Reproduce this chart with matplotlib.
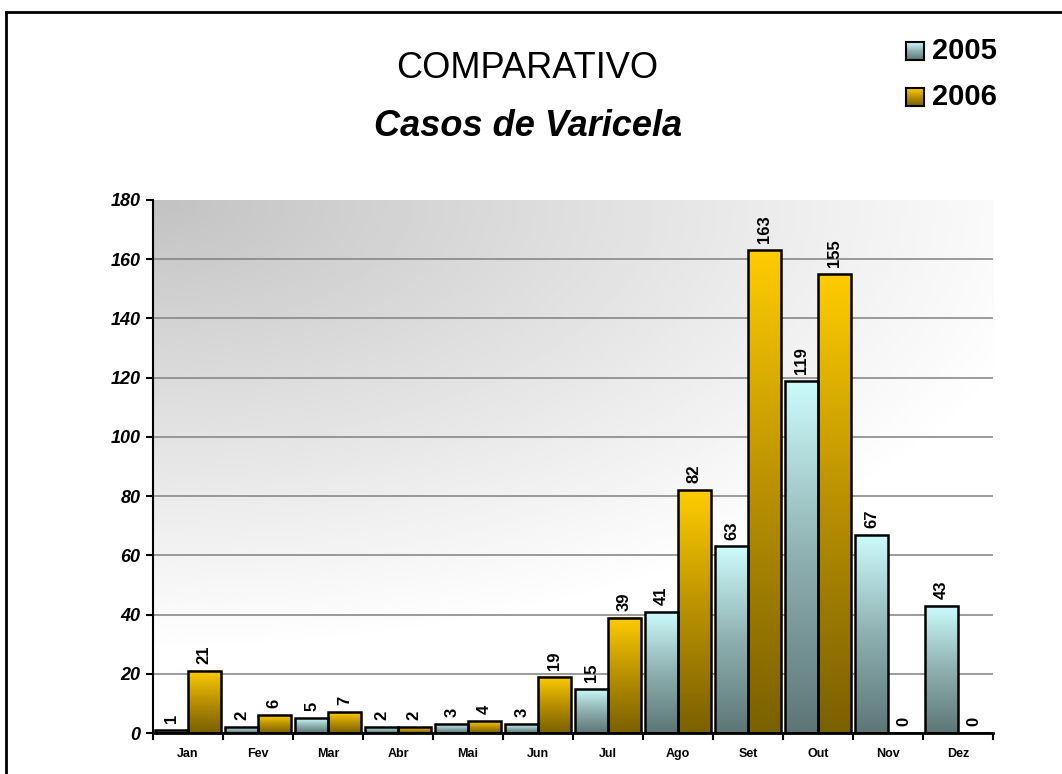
import numpy as np
import matplotlib.pyplot as plt
from matplotlib.colors import LinearSegmentedColormap
from matplotlib.lines import Line2D

plt.rcParams['font.family'] = ['Liberation Sans', 'DejaVu Sans']

# data
months = ['Jan', 'Fev', 'Mar', 'Abr', 'Mai', 'Jun', 'Jul', 'Ago', 'Set', 'Out', 'Nov', 'Dez']
casos_2005 = [1, 2, 5, 2, 3, 3, 15, 41, 63, 119, 67, 43]
casos_2006 = [21, 6, 7, 2, 4, 19, 39, 82, 163, 155, 0, 0]
series_labels = ['2005', '2006']

# gradient colour maps (bottom -> top)
cmap_2005 = LinearSegmentedColormap.from_list('c05', ['#5c7676', '#8fb0b0', '#ccfcfc'])
cmap_2006 = LinearSegmentedColormap.from_list('c06', ['#7a6000', '#b89000', '#ffcc00'])

fig = plt.figure(figsize=(10.62, 7.74), dpi=100)
ax = fig.add_axes([153 / 1062, 1 - 733 / 774, 840 / 1062, 533 / 774])

# background: gray at top-left fading to white
gx, gy = np.meshgrid(np.linspace(0, 1, 300), np.linspace(0, 1, 200))
d = np.sqrt((gx / 1.1) ** 2 + ((1 - gy) / 0.85) ** 2)
bg = 0.76 + 0.24 * np.clip(d / 1.0, 0, 1) ** 0.95
ax.imshow(bg, cmap='gray', vmin=0, vmax=1, origin='lower', extent=(0, 1, 0, 1),
          transform=ax.transAxes, aspect='auto', zorder=0, interpolation='bilinear')

x = np.arange(len(months))
w = 0.465
grad = np.linspace(0, 1, 256).reshape(-1, 1)

for vals, offset, cmap in [(casos_2005, -w / 2, cmap_2005), (casos_2006, w / 2, cmap_2006)]:
    bars = ax.bar(x + offset, vals, width=w, facecolor='none', edgecolor='black',
                  linewidth=1.8, zorder=3)
    for b, v in zip(bars, vals):
        if v > 0:
            x0 = b.get_x()
            ax.imshow(grad, cmap=cmap, origin='lower', aspect='auto',
                      extent=(x0, x0 + b.get_width(), 0, v), zorder=2, interpolation='bilinear')
        ax.annotate(str(v), (b.get_x() + b.get_width() / 2, v), xytext=(0, 5),
                    textcoords='offset points', rotation=90, ha='center', va='bottom',
                    fontsize=12, fontweight='bold', zorder=4)

ax.set_xlim(-0.5, len(months) - 0.5)
ax.set_ylim(0, 180)
ax.set_yticks(range(0, 181, 20))
for yv in range(20, 180, 20):
    ax.axhline(yv, color='#808080', linewidth=1.1, zorder=1)

ax.set_xticks(x)
ax.set_xticklabels(months, fontsize=9, fontweight='bold')
ax.set_xticks(np.arange(-0.5, len(months), 1), minor=True)
ax.tick_params(axis='x', which='major', length=0, pad=11)
ax.tick_params(axis='x', which='minor', length=5, width=1.5, direction='out')
ax.tick_params(axis='y', length=5, width=1.5, pad=4)
for lbl in ax.get_yticklabels():
    lbl.set_fontsize(13)
    lbl.set_fontweight('bold')
    lbl.set_fontstyle('italic')

for s in ['top', 'right']:
    ax.spines[s].set_visible(False)
ax.spines['left'].set_linewidth(1.5)
ax.spines['bottom'].set_linewidth(2)

# titles
fig.text(527 / 1062, 1 - 68 / 774, 'COMPARATIVO', ha='center', va='center', fontsize=26)
fig.text(528 / 1062, 1 - 126 / 774, 'Casos de Varicela', ha='center', va='center',
         fontsize=26, fontweight='bold', fontstyle='italic')

# legend with gradient swatches
for i, (lab, cmap) in enumerate(zip(series_labels, [cmap_2005, cmap_2006])):
    yc = 1 - (51 + 46 * i) / 774
    sx0, sw, sh = 906 / 1062, 18 / 1062, 18 / 774
    lax = fig.add_axes([sx0, yc - sh / 2, sw, sh])
    lax.imshow(grad, cmap=cmap, origin='lower', aspect='auto', extent=(0, 1, 0, 1))
    lax.set_xticks([])
    lax.set_yticks([])
    for sp in lax.spines.values():
        sp.set_linewidth(1.5)
    fig.text(932 / 1062, yc, lab, ha='left', va='center', fontsize=21, fontweight='bold')

# outer frame (left and top edges)
fig.add_artist(Line2D([6 / 1062, 6 / 1062], [0, 1 - 12 / 774], color='black', linewidth=2))
fig.add_artist(Line2D([6 / 1062, 1], [1 - 12 / 774, 1 - 12 / 774], color='black', linewidth=2))

fig.savefig('out.png', dpi=100)
